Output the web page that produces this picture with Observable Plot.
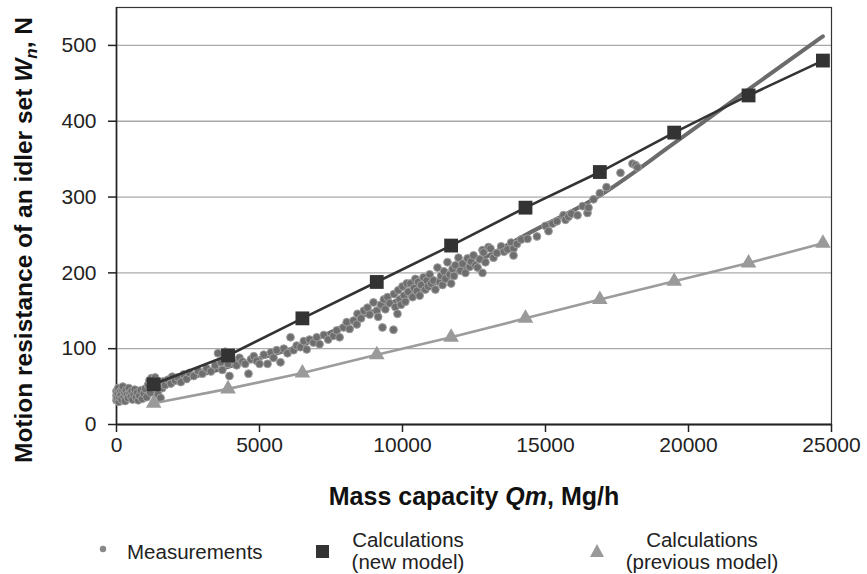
<!DOCTYPE html>
<html>
<head>
<meta charset="utf-8">
<script src="https://cdn.jsdelivr.net/npm/d3@7"></script>
<script src="https://cdn.jsdelivr.net/npm/@observablehq/plot@0.6"></script>
<style>
  body { margin: 0; background: #fff; font-family: "Liberation Sans", Arial, sans-serif; }
  #wrap { width: 867px; }
  #legend { position: relative; width: 867px; height: 54px; color: #222; font-size: 20.5px; }
  #legend .lab { position: absolute; white-space: nowrap; line-height: 22px; }
</style>
</head>
<body>
<div id="wrap"></div>
<script>
// ---- data ----
const calcQ = [1300, 3900, 6500, 9100, 11700, 14300, 16900, 19500, 22100, 24700];
const newModelW = [53, 91, 140, 188, 236, 286, 333, 385, 434, 480];
const prevModelW = [28, 47, 68, 92, 115, 140, 165, 189, 213, 239];

const trendQ = [1300, 4000, 6500, 9000, 11700, 14300, 16900, 19500, 22100, 24700];
const trendW = [47, 77, 105, 150, 196, 250, 302, 371, 442, 512];

const measQ = [
  0, 0, 0, 20, 40, 60, 80, 100, 120, 150, 180, 200, 220, 250, 280, 300, 330, 360, 400, 430,
  460, 500, 530, 560, 600, 640, 680, 720, 760, 800, 850, 900, 950, 1000,
  1050, 1100, 1150, 1180, 1220, 1260, 1300, 1350, 1400, 1450, 1500, 1540, 1600, 1650, 1700, 1800, 1900, 1950,
  2050, 2150, 2250, 2350, 2450, 2550, 2700, 2850, 3000, 3150, 3300, 3450, 3550, 3650, 3700, 3800, 3850, 3900, 3950, 4000,
  4100, 4200, 4300, 4400, 4500, 4615, 4700, 4800, 4900, 5000, 5150, 5280, 5400, 5490, 5600, 5734, 5850, 5979, 6084, 6189,
  6300, 6434, 6550, 6650, 6750, 6888, 7000,
  7100, 7250, 7400, 7587, 7700, 7800, 7937, 8050, 8150, 8287, 8400, 8427, 8550, 8650, 8776, 8850, 8986, 9100, 9150, 9250,
  9300, 9350, 9400, 9476, 9550, 9685, 9700, 9750, 9825, 9850, 9900, 9950, 10000,
  10050, 10100, 10150, 10200, 10280, 10350, 10400, 10450, 10500, 10550, 10600, 10650, 10734, 10800, 10850, 10900, 10950,
  11000, 11084, 11150, 11224, 11300, 11350, 11400, 11450, 11500, 11573, 11650, 11700, 11750, 11800, 11850, 11958, 12028,
  12100, 12200, 12273, 12350, 12400, 12483, 12550, 12623, 12700, 12797, 12797, 12832, 12900, 13007, 13077,
  13182, 13300, 13450, 13550, 13671, 13800, 13881, 13881, 14000, 14150, 14371, 14700, 15000, 15105, 15245, 15400, 15629,
  15699, 15804, 15900, 16119,
  16300, 16468, 16503, 16678, 16900, 17133, 17622, 18042, 18150, 18217
];
const measW = [
  32, 38, 44, 35, 41, 48, 30, 36, 43, 39, 33, 46, 50, 37, 42, 31, 45, 39, 35, 48,
  41, 37, 44, 33, 40, 46, 36, 42, 32, 38, 45, 34, 41, 47,
  36, 52, 58, 42, 61, 55, 49, 62, 57, 40, 53, 35, 48, 57, 52, 59, 54, 63,
  58, 62, 56, 66, 60, 68, 64, 71, 67, 74, 70, 78, 94, 82, 72, 96, 88, 80, 64, 92,
  85, 78, 88, 83, 80, 67, 86, 90, 84, 80, 92, 80, 95, 88, 98, 82, 100, 94, 115, 98,
  104, 102, 110, 99, 112, 108, 115,
  106, 118, 112, 117, 124, 115, 128, 135, 126, 137, 132, 146, 140, 150, 154, 145, 161, 150, 142, 158,
  128, 165, 152, 168, 160, 125, 172, 155, 146, 177, 165, 158, 182,
  170, 162, 186, 175, 186, 168, 180, 192, 176, 188, 170, 184, 194, 178, 190, 182, 198,
  186, 190, 178, 207, 188, 196, 184, 202, 192, 214, 198, 186, 205, 196, 210, 220, 203,
  212, 200, 219, 208, 215, 223, 210, 207, 218, 230, 200, 227, 214, 234, 232,
  220, 226, 235, 228, 231, 240, 232, 223, 238, 244, 245, 248, 262, 255, 265, 268, 276,
  270, 274, 278, 276,
  288, 279, 286, 297, 305, 313, 332, 344, 342, 339
];

const xTicks = [0, 5000, 10000, 15000, 20000, 25000];
const yTicks = [0, 100, 200, 300, 400, 500];
const gridTicks = [100, 200, 300, 400, 500];

// ---- tables built from the arrays ----
const calcNew = calcQ.map((q, i) => ({q, w: newModelW[i]}));
const calcPrev = calcQ.map((q, i) => ({q, w: prevModelW[i]}));
const trend = trendQ.map((q, i) => ({q, w: trendW[i]}));
const meas = measQ.map((q, i) => ({q, w: measW[i]}));

const chart = Plot.plot({
  width: 867,
  height: 520,
  marginLeft: 116,
  marginRight: 36,
  marginTop: 7,
  marginBottom: 96,
  style: {fontFamily: '"Liberation Sans", Arial, sans-serif', fontSize: "21px", color: "#222", background: "#fff", overflow: "visible"},
  x: {domain: [0, 25000]},
  y: {domain: [0, 550]},
  marks: [
    Plot.gridY(gridTicks, {stroke: "#a9a9a9", strokeOpacity: 1, strokeWidth: 1.3}),
    Plot.frame({stroke: "#333", strokeWidth: 1.2}),
    Plot.axisX({ticks: xTicks, tickSize: 8, tickPadding: 5, tickFormat: d3.format("d"), label: null, stroke: "#222", strokeWidth: 1.5}),
    Plot.axisY({ticks: yTicks, tickSize: 8, tickPadding: 12, tickFormat: d3.format("d"), label: null, stroke: "#222", strokeWidth: 1.5}),
    Plot.ruleY([0], {stroke: "#222", strokeWidth: 2.2}),
    Plot.ruleX([0], {stroke: "#222", strokeWidth: 1.6}),
    Plot.line(trend, {x: "q", y: "w", stroke: "#6b6b6b", strokeWidth: 4, curve: "monotone-x"}),
    Plot.dot(meas, {x: "q", y: "w", r: 3.9, fill: "#6e6e6e", stroke: "#9e9e9e", strokeWidth: 1}),
    Plot.line(calcNew, {x: "q", y: "w", stroke: "#333", strokeWidth: 2.6}),
    Plot.dot(calcNew, {x: "q", y: "w", symbol: "square", r: 7.8, fill: "#333", stroke: "none"}),
    Plot.line(calcPrev, {x: "q", y: "w", stroke: "#9c9c9c", strokeWidth: 2.6}),
    Plot.dot(calcPrev, {x: "q", y: "w", symbol: "triangle", r: 5.8, fill: "#9a9a9a", stroke: "none"})
  ]
});

// axis titles with italic parts, as real text
const svg = d3.select(chart);
const xt = svg.append("text")
  .attr("x", 474).attr("y", 505)
  .attr("text-anchor", "middle")
  .attr("font-weight", "bold").attr("font-size", 25).attr("fill", "#111");
xt.append("tspan").text("Mass capacity ");
xt.append("tspan").attr("font-style", "italic").text("Qm");
xt.append("tspan").text(", Mg/h");

const yt = svg.append("text")
  .attr("transform", "translate(32,240) rotate(-90)")
  .attr("text-anchor", "middle")
  .attr("font-weight", "bold").attr("font-size", 24.5).attr("fill", "#111");
yt.append("tspan").text("Motion resistance of an idler set ");
yt.append("tspan").attr("font-style", "italic").text("W");
yt.append("tspan").attr("font-style", "italic").attr("font-size", 17).attr("dy", 5).text("n");
yt.append("tspan").attr("dy", -5).text(", N");

document.getElementById("wrap").appendChild(chart);

// legend below the chart
const legend = document.createElement("div");
legend.id = "legend";
legend.innerHTML = `
  <svg width="867" height="54" style="position:absolute;left:0;top:0">
    <circle cx="103" cy="29" r="3.2" fill="#888"/>
    <rect x="316" y="25" width="13" height="13" fill="#333"/>
    <polygon points="597,24 604,37 590,37" fill="#999"/>
  </svg>
  <div class="lab" style="left:127px;top:21px">Measurements</div>
  <div class="lab" style="left:343px;top:9px;width:130px;text-align:center">Calculations<br>(new model)</div>
  <div class="lab" style="left:617px;top:9px;width:170px;text-align:center">Calculations<br>(previous model)</div>
`;
document.getElementById("wrap").appendChild(legend);
</script>
</body>
</html>
